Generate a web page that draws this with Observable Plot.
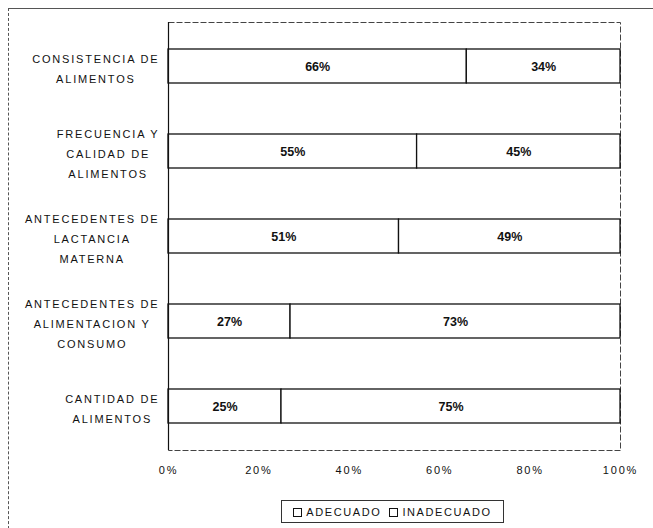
<!DOCTYPE html>
<html>
<head>
<meta charset="utf-8">
<script src="https://cdn.jsdelivr.net/npm/d3@7"></script>
<script src="https://cdn.jsdelivr.net/npm/@observablehq/plot@0.6"></script>
<style>
  body { margin: 0; background: #fff; font-family: "Liberation Sans", Arial, sans-serif; }
  #wrap { position: relative; width: 653px; height: 528px; overflow: hidden; }
  #border { position: absolute; left: 8px; top: 8px; width: 660px; height: 540px;
            border-top: 1px solid #555; border-left: 1px dashed #555; }
  #chart { position: absolute; left: 0; top: 0; }
  #legend { position: absolute; left: 281px; top: 500px; width: 221px; height: 21px;
            border: 1px solid #333; display: flex; align-items: center; justify-content: center;
            font-size: 11px; letter-spacing: 1.6px; color: #111; gap: 8px; background: #fff; }
  #legend .sw { display: inline-block; width: 7px; height: 7px; border: 1px solid #111; background: #fff; margin-right: 4px; vertical-align: -1px; }
</style>
</head>
<body>
<div id="wrap">
  <div id="border"></div>
  <div id="chart"></div>
  <div id="legend"></div>
</div>
<script>
const categories = [
  "CONSISTENCIA DE\nALIMENTOS",
  "FRECUENCIA Y\nCALIDAD DE\nALIMENTOS",
  "ANTECEDENTES DE\nLACTANCIA\nMATERNA",
  "ANTECEDENTES DE\nALIMENTACION Y\nCONSUMO",
  "CANTIDAD DE\nALIMENTOS"
];
const series = ["ADECUADO", "INADECUADO"];
const adecuado = [66, 55, 51, 27, 25];
const inadecuado = [34, 45, 49, 73, 75];
const xTicks = [0, 20, 40, 60, 80, 100];

const data = [];
categories.forEach((c, i) => {
  data.push({category: c, series: series[0], value: adecuado[i]});
  data.push({category: c, series: series[1], value: inadecuado[i]});
});

const chart = Plot.plot({
  width: 653,
  height: 490,
  marginTop: 22,
  marginBottom: 40,
  marginLeft: 168,
  marginRight: 33,
  style: {fontFamily: "'Liberation Sans', Arial, sans-serif", background: "transparent", color: "#111"},
  x: {domain: [0, 100]},
  y: {domain: categories, paddingInner: 0.6, paddingOuter: 0.3},
  marks: [
    Plot.frame({stroke: "#444", strokeWidth: 1, strokeDasharray: "6,2"}),
    Plot.barX(data, Plot.stackX({x: "value", y: "category", z: "series", order: series, fill: "white", stroke: "#111", strokeWidth: 1.3})),
    Plot.text(data, Plot.stackX({x: "value", y: "category", z: "series", order: series, text: d => d.value + "%", fontWeight: "bold", fontSize: 12.5, fill: "#111"})),
    Plot.ruleX([0], {stroke: "#111", strokeWidth: 1.2}),
    Plot.axisX({ticks: xTicks, tickFormat: d => d + "%", tickSize: 0, tickPadding: 16, fontSize: 11, label: null}),
    Plot.axisY({tickSize: 0, tickPadding: 9, fontSize: 11, lineHeight: 1.8, label: null})
  ]
});
document.getElementById("chart").appendChild(chart);

d3.select(chart).selectAll('g[aria-label="y-axis tick label"] text, g[aria-label="x-axis tick label"] text')
  .style("letter-spacing", "1.8px");

d3.select(chart).selectAll('g[aria-label="y-axis tick label"] text').each(function() {
  const w = this.getBBox().width;
  this.setAttribute("text-anchor", "middle");
  const t = this.getAttribute("transform") || "";
  this.setAttribute("transform", t + ` translate(${-w / 2},0)`);
});

const legend = document.getElementById("legend");
series.forEach(s => {
  const item = document.createElement("span");
  item.innerHTML = `<span class="sw"></span>${s}`;
  legend.appendChild(item);
});
</script>
</body>
</html>
